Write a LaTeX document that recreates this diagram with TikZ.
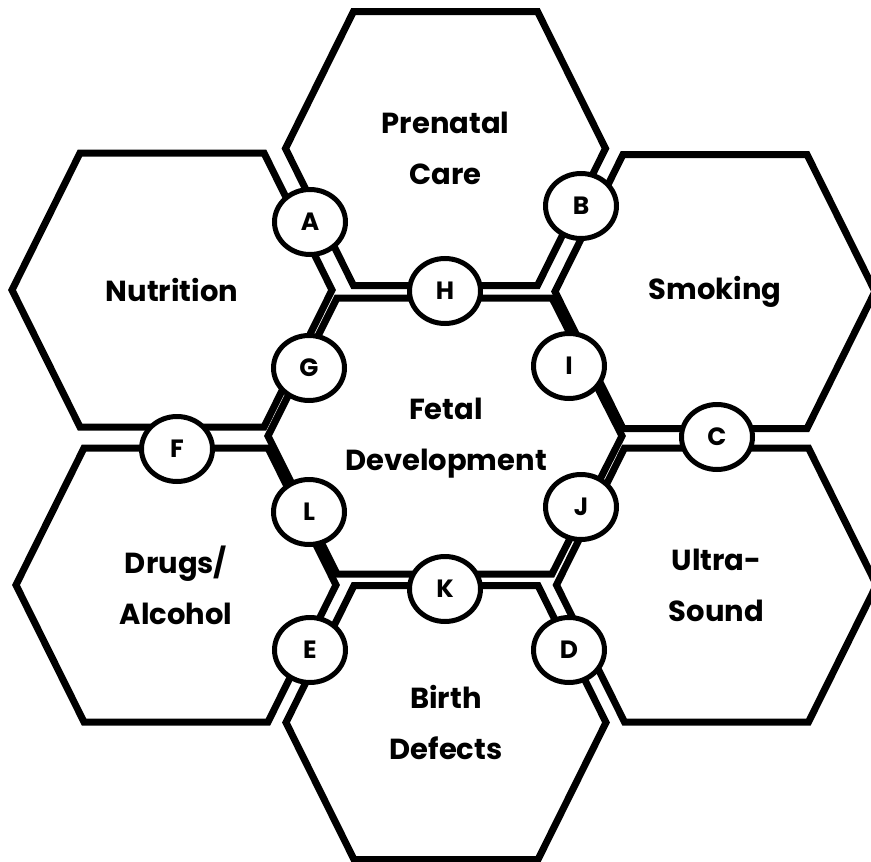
\documentclass[tikz,border=0pt]{standalone}
\usepackage{fontspec}
\setmainfont{Poppins}
\usetikzlibrary{shapes.geometric}

\begin{document}
\begin{tikzpicture}[
  x=1pt, y=-1pt,
  cell/.style={draw, line width=7pt, line join=miter},
  celltext/.style={align=center, font=\fontsize{29}{51}\selectfont\bfseries},
  tag/.style={draw, ellipse, fill=white, line width=5pt, minimum width=71pt, minimum height=65pt, inner sep=0pt, font=\fontsize{25}{25}\selectfont\bfseries}
]
\useasboundingbox (0,0) rectangle (871,862);

% outer ring of cells
\foreach \name/\cx/\cy/\txt in {prenatal/445.5/148.5/{Prenatal\\Care}, nutrition/172/290/{Nutrition}, smoking/715/291.5/{Smoking}, drugs/176/585/{Drugs/\\Alcohol}, ultra/716.5/585/{Ultra-\\Sound}, birth/446/722.5/{Birth\\Defects}} {
  \draw[cell] (\cx-160,\cy) -- (\cx-92,\cy-137) -- (\cx+92,\cy-137) -- (\cx+160,\cy) -- (\cx+92,\cy+137) -- (\cx-92,\cy+137) -- cycle;
  \node[celltext] (\name) at (\cx,\cy) {\txt};
}

% centre cell
\draw[cell] (268,436) -- (337,298) -- (552,298) -- (622,436) -- (552,574) -- (337,574) -- cycle;
\node[celltext] (fetal) at (446,438) {Fetal\\Development};

% letter tags on the borders
\foreach \l/\x/\y in {A/310/222, B/581/206, C/717/437, D/569/650, E/310/650, F/177/449, G/309/368, H/445/291, I/569/366, J/581/507, K/445/589, L/309/512}
  \node[tag] (tag\l) at (\x,\y) {\l};
\end{tikzpicture}
\end{document}
